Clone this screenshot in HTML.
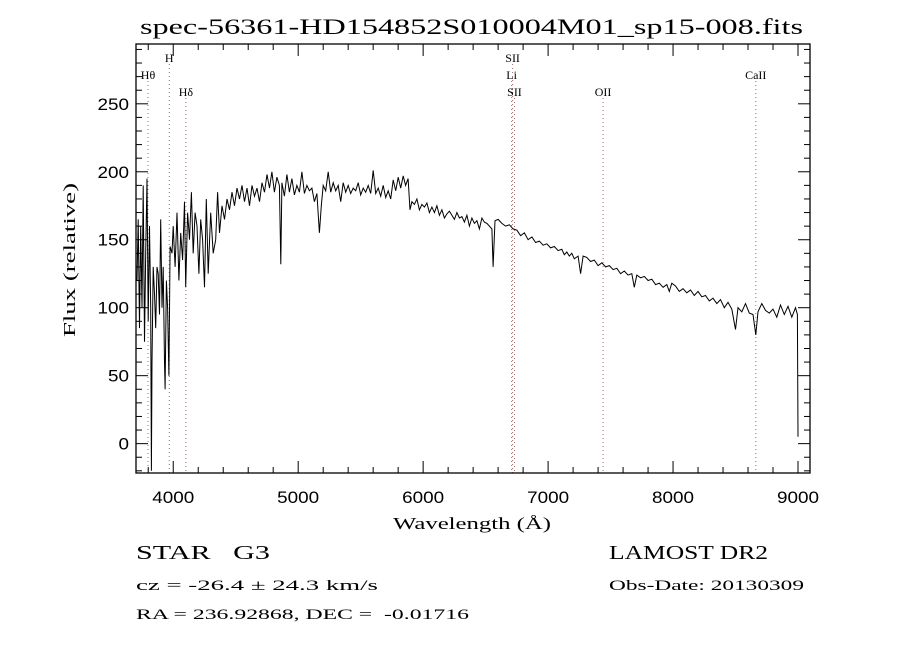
<!DOCTYPE html>
<html><head><meta charset="utf-8"><style>
body{margin:0;background:#fff;}
svg{display:block;font-family:"Liberation Serif",serif;}
</style></head><body>
<svg id="chart" width="900" height="650" viewBox="0 0 900 650">
<text x="140" y="34" font-size="22" textLength="663" lengthAdjust="spacingAndGlyphs">spec-56361-HD154852S010004M01_sp15-008.fits</text>
<g id="lines"></g>
<g id="axes"></g>
<path id="spec" fill="none" stroke="#000" stroke-width="1"/>
<rect x="136" y="44" width="674" height="429" fill="none" stroke="#000" stroke-width="1.3"/>
<text x="393" y="529" font-size="17" textLength="158" lengthAdjust="spacingAndGlyphs">Wavelength (Å)</text>
<text transform="translate(75,337) rotate(-90)" font-size="17" textLength="154" lengthAdjust="spacingAndGlyphs">Flux (relative)</text>
<text x="136" y="559" font-size="20" textLength="134" lengthAdjust="spacingAndGlyphs" xml:space="preserve">STAR   G3</text>
<text x="136" y="590" font-size="15" textLength="242" lengthAdjust="spacingAndGlyphs">cz = -26.4 ± 24.3 km/s</text>
<text x="136" y="619" font-size="15" textLength="333" lengthAdjust="spacingAndGlyphs" xml:space="preserve">RA = 236.92868, DEC =  -0.01716</text>
<text x="609" y="559" font-size="20" textLength="159" lengthAdjust="spacingAndGlyphs">LAMOST DR2</text>
<text x="609" y="590" font-size="15" textLength="195" lengthAdjust="spacingAndGlyphs">Obs-Date: 20130309</text>
</svg>
<script>
const xTicks=[4000,5000,6000,7000,8000,9000];
const yTicks=[0,50,100,150,200,250];
const lineNames=["Hθ","H","Hδ","SII","Li","SII","OII","CaII"];
const lineWaves=[3798,3968,4101,6716,6708,6731,7440,8662];
const lineRows=[1,0,2,0,1,2,2,1];
const wave=[3710,3720,3730,3740,3750,3760,3770,3780,3790,3800,3810,3820,3825,3830,3840,3850,3860,3870,3880,3890,3900,3910,3920,3930,3935,3945,3955,3965,3975,3990,4000,4015,4030,4045,4060,4075,4090,4100,4115,4130,4145,4160,4175,4190,4205,4220,4235,4250,4265,4280,4300,4320,4340,4355,4370,4390,4410,4430,4450,4470,4490,4510,4530,4550,4570,4590,4610,4630,4650,4670,4690,4710,4730,4750,4770,4790,4810,4830,4850,4861,4870,4890,4910,4930,4950,4970,4990,5010,5030,5050,5070,5090,5110,5130,5150,5170,5185,5200,5220,5240,5260,5280,5300,5320,5340,5360,5380,5400,5420,5440,5460,5480,5500,5520,5540,5560,5580,5600,5620,5640,5660,5680,5700,5720,5740,5760,5780,5800,5820,5840,5860,5880,5895,5910,5930,5950,5970,5990,6010,6030,6050,6070,6090,6110,6130,6150,6170,6190,6210,6230,6250,6270,6290,6310,6330,6350,6370,6390,6410,6430,6450,6470,6490,6510,6530,6550,6560,6575,6600,6630,6660,6690,6720,6750,6780,6810,6840,6870,6900,6930,6960,6990,7020,7050,7080,7110,7130,7150,7170,7190,7210,7240,7260,7280,7310,7340,7370,7400,7430,7460,7490,7520,7550,7580,7610,7640,7670,7690,7710,7740,7770,7800,7830,7860,7890,7920,7950,7970,7990,8020,8050,8080,8110,8140,8170,8200,8230,8260,8290,8320,8350,8380,8410,8440,8470,8500,8520,8550,8580,8610,8640,8662,8680,8710,8740,8770,8800,8830,8860,8890,8920,8950,8980,8995,9000];
const flux=[120,165,85,160,100,190,75,140,195,90,160,100,-20,60,130,110,85,130,125,95,165,100,130,60,40,120,100,50,145,140,160,130,170,120,155,135,178,115,170,150,185,140,170,160,125,165,150,115,180,125,170,140,150,185,155,175,165,180,172,185,175,188,180,190,178,188,175,190,182,188,178,192,185,198,188,200,185,196,190,132,192,182,198,185,195,183,190,185,200,184,190,186,188,178,184,155,175,190,186,200,185,192,186,190,178,192,185,190,184,188,186,192,183,188,185,190,184,201,184,188,182,190,181,186,180,194,186,196,188,197,190,195,172,178,176,180,172,176,174,177,170,174,170,175,168,172,166,169,171,168,165,170,166,167,163,168,160,166,162,164,158,166,163,162,160,158,130,164,165,162,160,161,158,157,153,155,150,152,148,149,146,147,144,145,142,143,139,141,138,140,136,138,125,138,137,134,135,131,133,130,131,128,129,125,127,124,125,115,124,122,123,120,121,117,118,115,117,112,118,116,112,114,111,113,109,112,108,109,105,107,103,106,100,104,99,84,100,97,103,96,95,80,97,103,98,96,99,93,102,95,101,93,100,95,5];
const X0=136,X1=810,Y0=44,Y1=473;
const xMin=3702,xMax=9096,yMin=-21.6,yMax=294;
const sx=w=>X0+(w-xMin)/(xMax-xMin)*(X1-X0);
const sy=f=>Y1-(f-yMin)/(yMax-yMin)*(Y1-Y0);
const NS="http://www.w3.org/2000/svg";
const axes=document.getElementById('axes');
function mk(tag,attrs,parent){const e=document.createElementNS(NS,tag);for(const k in attrs)e.setAttribute(k,attrs[k]);parent.appendChild(e);return e;}
for(let w=3800;w<=9000;w+=200){const x=sx(w);const major=w%1000===0;const L=major?12:6;
 const t1=mk('line',{x1:x,x2:x,y1:Y1,y2:Y1-L,stroke:'#000'},axes);
 
 
 const t2=mk('line',{x1:x,x2:x,y1:Y0,y2:Y0+L,stroke:'#000'},axes);
 
 }
for(let f=-20;f<=290;f+=10){const y=sy(f);const major=f%50===0;const L=major?12:6;
 const t1=mk('line',{x1:X0,x2:X0+L,y1:y,y2:y,stroke:'#000'},axes);
 
 
 const t2=mk('line',{x1:X1,x2:X1-L,y1:y,y2:y,stroke:'#000'},axes);
 
 }
xTicks.forEach(v=>{const t=mk('text',{x:sx(v),y:503,'font-size':17,'text-anchor':'middle','font-family':'Liberation Sans, sans-serif','textLength':(String(v).length*10.5),'lengthAdjust':'spacingAndGlyphs'},axes);t.textContent=v;
 
 });
yTicks.forEach(v=>{const t=mk('text',{x:129,y:sy(v)+6,'font-size':17,'text-anchor':'end','font-family':'Liberation Sans, sans-serif','textLength':(String(v).length*10.5),'lengthAdjust':'spacingAndGlyphs'},axes);t.textContent=v;
 
 });
const lg=document.getElementById('lines');
lineWaves.forEach((w,i)=>{const x=sx(w);
 const l=mk('line',{x1:x,x2:x,y1:Y0+(lineRows[i]*17+20),y2:Y1,stroke:'#a07070',"stroke-width":1,"stroke-dasharray":"1,3"},lg);
 
 
 const t=mk('text',{x:x,y:Y0+18+lineRows[i]*17,'font-size':12,'text-anchor':'middle'},lg);t.textContent=lineNames[i];
 
 });
let d='';wave.forEach((w,i)=>{d+=(i?'L':'M')+sx(w).toFixed(1)+','+sy(flux[i]).toFixed(1);});
document.getElementById('spec').setAttribute('d',d);
</script>
</body></html>
